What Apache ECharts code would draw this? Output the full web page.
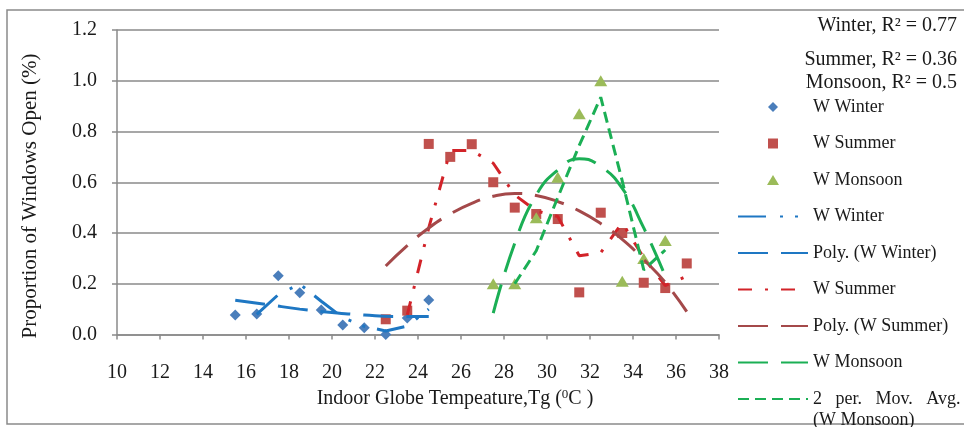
<!DOCTYPE html>
<html>
<head>
<meta charset="utf-8">
<script src="https://cdn.jsdelivr.net/npm/echarts@6/dist/echarts.min.js"></script>
<style>
  html, body { margin: 0; background: #fff; }
  #chart { width: 964px; height: 427px; }
</style>
</head>
<body>
<div id="chart"></div>
<script>
// 观测点：室内黑球温度 Tg 与开窗比例
const winterTemp = [15.5, 16.5, 17.5, 18.5, 19.5, 20.5, 21.5, 22.5, 23.5, 24.5];
const winterOpen = [0.077, 0.081, 0.232, 0.165, 0.097, 0.037, 0.027, 0.0, 0.065, 0.136];
const summerTemp = [22.5, 23.5, 24.5, 25.5, 26.5, 27.5, 28.5, 29.5, 30.5, 31.5, 32.5, 33.5, 34.5, 35.5, 36.5];
const summerOpen = [0.06, 0.094, 0.751, 0.70, 0.75, 0.60, 0.50, 0.475, 0.455, 0.166, 0.48, 0.40, 0.204, 0.183, 0.28];
const monsoonTemp = [27.5, 28.5, 29.5, 30.5, 31.5, 32.5, 33.5, 34.5, 35.5];
const monsoonOpen = [0.20, 0.20, 0.46, 0.62, 0.87, 1.0, 0.21, 0.30, 0.37];

// 趋势线
const winterMaTemp = [16.5, 17.5, 18.5, 19.5, 20.5, 21.5, 22.5, 23.5, 24.5];
const winterMa = [0.079, 0.157, 0.199, 0.131, 0.067, 0.032, 0.014, 0.033, 0.10];
const winterPolyTemp = [15.5, 17, 18.5, 20, 21.5, 23, 24.5];
const winterPoly = [0.135, 0.118, 0.10, 0.087, 0.077, 0.071, 0.071];
const summerMaTemp = [23.5, 24.5, 25.5, 26.5, 27.5, 28.5, 29.5, 30.5, 31.5, 32.5, 33.5, 34.5, 35.5, 36.5];
const summerMa = [0.077, 0.42, 0.725, 0.725, 0.675, 0.55, 0.487, 0.465, 0.31, 0.323, 0.44, 0.302, 0.193, 0.23];
const summerPolyTemp = [22.5, 23.5, 24.5, 25.5, 26.5, 27.5, 28.5, 29.5, 30.5, 31.5, 32.5, 33.5, 34.5, 35.5, 36.5];
const summerPoly = [0.27, 0.35, 0.42, 0.475, 0.517, 0.545, 0.556, 0.548, 0.524, 0.487, 0.437, 0.375, 0.295, 0.205, 0.09];
const monsoonPolyTemp = [27.5, 28.5, 29.5, 30.5, 31.5, 32.5, 33.5, 34.5, 35.5];
const monsoonPoly = [0.084, 0.36, 0.55, 0.648, 0.693, 0.662, 0.576, 0.42, 0.23];
const monsoonMaTemp = [28.5, 29.5, 30.5, 31.5, 32.5, 33.5, 34.5, 35.5];
const monsoonMa = [0.20, 0.33, 0.54, 0.745, 0.935, 0.605, 0.255, 0.333];

const rSquared = ['Winter, R² = 0.77', 'Summer, R² = 0.36', 'Monsoon, R² = 0.5'];

const font = "'Liberation Serif', 'Times New Roman', serif";
const pairs = (xs, ys) => xs.map((x, i) => [x, ys[i]]);

function scatter(name, data, symbol, size, color) {
    return {
        name: name, type: 'scatter', data: data,
        symbol: symbol, symbolSize: size,
        itemStyle: { color: color, opacity: 1 }
    };
}

function trend(name, data, color, dash, smooth) {
    return {
        name: name, type: 'line', data: data,
        symbol: 'none', smooth: smooth,
        lineStyle: { color: color, width: 3, type: dash, cap: 'butt' },
        itemStyle: { color: color }
    };
}

// 图例中的线条项：隐藏中间的圆点
const lineItem = name => ({ name: name, itemStyle: { opacity: 0, borderWidth: 0 } });

const chart = echarts.init(document.getElementById('chart'));
chart.setOption({
    animation: false,
    backgroundColor: '#fff',
    textStyle: { fontFamily: font, color: '#1a1a1a' },
    grid: { left: 117, right: 245, top: 30, bottom: 92.5 },
    xAxis: {
        type: 'value', min: 10, max: 38, interval: 2,
        axisLine: { lineStyle: { color: '#8a8a8a', width: 1.5 } },
        axisTick: { show: true, length: 5, lineStyle: { color: '#8a8a8a', width: 1.5 } },
        axisLabel: { fontFamily: font, fontSize: 20, color: '#1a1a1a', margin: 28 },
        splitLine: { show: false }
    },
    yAxis: {
        type: 'value', min: 0, max: 1.2, interval: 0.2,
        axisLine: { show: true, lineStyle: { color: '#8a8a8a', width: 1.5 } },
        axisTick: { show: true, length: 5, lineStyle: { color: '#8a8a8a', width: 1.5 } },
        axisLabel: { fontFamily: font, fontSize: 20, color: '#1a1a1a', margin: 20,
                     formatter: v => v.toFixed(1) },
        splitLine: { lineStyle: { color: '#8a8a8a', width: 1.5 } }
    },
    legend: [{
        orient: 'vertical', left: 737, top: 98, padding: 0,
        itemWidth: 70, itemHeight: 10, itemGap: 18.5, symbolKeepAspect: true,
        textStyle: { fontFamily: font, fontSize: 18, color: '#1a1a1a' },
        data: [
            { name: 'W Winter', icon: 'path://M5,0L10,5L5,10L0,5Z' },
            { name: 'W Summer', icon: 'path://M0,0L10,0L10,10L0,10Z' },
            { name: 'W Monsoon', icon: 'path://M6,0L12,10L0,10Z' },
            lineItem('W Winter '), lineItem('Poly. (W Winter)'),
            lineItem('W Summer '), lineItem('Poly. (W Summer)'),
            lineItem('W Monsoon ')
        ]
    }, {
        orient: 'vertical', left: 737, top: 367.5, padding: 0,
        itemWidth: 70, itemHeight: 10,
        textStyle: { fontFamily: font, fontSize: 18, color: '#1a1a1a', lineHeight: 21 },
        formatter: () => '\n2   per.   Mov.   Avg.\n(W Monsoon)',
        data: [lineItem('2 per. Mov. Avg. (W Monsoon)')]
    }],
    graphic: [
        { type: 'rect', shape: { x: 7, y: 10, width: 1000, height: 414 },
          style: { fill: 'none', stroke: '#8a8a8a', lineWidth: 1.5 }, silent: true },
        { type: 'text', x: 957, y: 26,
          style: { text: rSquared[0], font: '20px ' + font, fill: '#1a1a1a', textAlign: 'right', textVerticalAlign: 'middle' } },
        { type: 'text', x: 957, y: 60,
          style: { text: rSquared[1], font: '20px ' + font, fill: '#1a1a1a', textAlign: 'right', textVerticalAlign: 'middle' } },
        { type: 'text', x: 957, y: 83,
          style: { text: rSquared[2], font: '20px ' + font, fill: '#1a1a1a', textAlign: 'right', textVerticalAlign: 'middle' } },
        { type: 'text', x: 455, y: 399,
          style: { text: 'Indoor Globe Tempeature,Tg ({sup|0}C )', font: '20px ' + font, fill: '#1a1a1a',
                   textAlign: 'center', textVerticalAlign: 'middle',
                   rich: { sup: { fontSize: 13, fontFamily: font, verticalAlign: 'top', padding: [0, 0, 8, 0] } } } },
        { type: 'text', x: 30, y: 196, rotation: Math.PI / 2,
          style: { text: 'Proportion of Windows Open (%)', font: '21px ' + font, fill: '#1a1a1a',
                   textAlign: 'center', textVerticalAlign: 'middle' } }
    ],
    series: [
        scatter('W Winter', pairs(winterTemp, winterOpen), 'diamond', 11, '#4A7EBB'),
        scatter('W Summer', pairs(summerTemp, summerOpen), 'rect', 10, '#C0504D'),
        scatter('W Monsoon', pairs(monsoonTemp, monsoonOpen), 'triangle', [13, 11], '#9BBB59'),
        trend('W Winter ', pairs(winterMaTemp, winterMa), '#1E77C3', [28, 14, 3, 12, 3, 12], false),
        trend('Poly. (W Winter)', pairs(winterPolyTemp, winterPoly), '#1E77C3', [30, 13], true),
        trend('W Summer ', pairs(summerMaTemp, summerMa), '#D22329', [14, 13, 3, 13], false),
        trend('Poly. (W Summer)', pairs(summerPolyTemp, summerPoly), '#A4494A', [30, 13], true),
        trend('W Monsoon ', pairs(monsoonPolyTemp, monsoonPoly), '#1BAF55', [30, 13], true),
        trend('2 per. Mov. Avg. (W Monsoon)', pairs(monsoonMaTemp, monsoonMa), '#1BAF55', [11, 6], false)
    ]
});
</script>
</body>
</html>
